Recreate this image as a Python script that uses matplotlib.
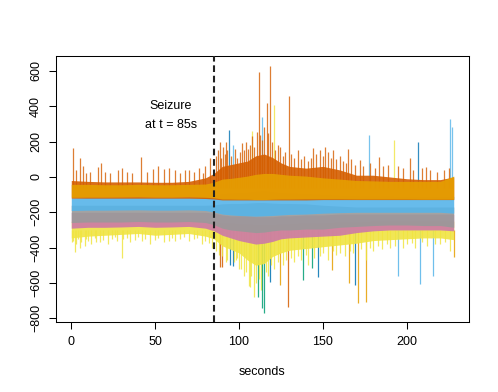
import matplotlib
matplotlib.use("Agg")
import matplotlib.pyplot as plt
import numpy as np

plt.rcParams['font.family'] = ['Liberation Sans', 'DejaVu Sans']

# Okabe-Ito colours used for the channels
DKOR = '#D55E00'
ORNG = '#E69F00'
SKY = '#56B4E9'
GREEN = '#009E73'
YEL = '#F0E442'
BLUE = '#0072B2'
PINK = '#CC79A7'
GRAY = '#999999'

# time knots (seconds) for the band envelopes
T = [0, 10, 20, 30, 40, 50, 60, 70, 80, 85, 90, 95, 100, 105, 110, 115,
     120, 125, 130, 140, 150, 160, 170, 180, 190, 200, 210, 220, 228]

# envelopes (upper / lower) of the dense part of each channel
yel_hi = [-250, -250, -250, -250, -250, -250, -250, -250, -250, -255, -260, -260, -265, -265, -270, -270,
          -270, -265, -265, -260, -260, -255, -255, -250, -250, -250, -250, -250, -250]
yel_lo = [-345, -335, -330, -325, -320, -330, -325, -320, -335, -350, -390, -410, -430, -470, -500, -490,
          -450, -430, -415, -405, -395, -385, -375, -360, -355, -350, -345, -345, -355]
pink_hi = [-200, -200, -200, -200, -200, -200, -200, -200, -200, -205, -215, -220, -220, -220, -225, -225,
           -225, -220, -220, -215, -215, -210, -210, -210, -210, -210, -210, -210, -210]
pink_lo = [-290, -285, -285, -283, -280, -285, -283, -280, -290, -305, -330, -345, -360, -370, -380, -375,
           -365, -350, -345, -340, -335, -330, -315, -305, -300, -300, -300, -300, -305]
gray_hi = [-160, -160, -160, -160, -160, -160, -160, -160, -160, -158, -152, -150, -150, -148, -145, -145,
           -148, -150, -150, -152, -160, -165, -170, -170, -170, -170, -170, -170, -170]
gray_lo = [-258, -255, -255, -255, -252, -255, -255, -252, -258, -270, -290, -300, -305, -310, -315, -312,
           -305, -300, -300, -295, -295, -285, -280, -275, -272, -272, -275, -275, -285]
sky_hi = [-118, -116, -116, -116, -115, -116, -116, -115, -112, -105, -95, -92, -90, -88, -82, -78,
          -85, -90, -92, -95, -100, -105, -108, -110, -110, -112, -112, -112, -110]
sky_lo = [-190, -188, -188, -187, -186, -188, -188, -186, -190, -198, -210, -215, -218, -220, -222, -220,
          -218, -215, -212, -210, -205, -202, -200, -200, -200, -200, -200, -200, -205]
dkor_hi = [-20, -25, -28, -28, -28, -30, -30, -25, -5, 20, 60, 70, 80, 90, 120, 130,
           110, 80, 60, 50, 60, 40, 10, 10, 0, -10, -15, -15, 0]
dkor_lo = [-120, -120, -120, -120, -120, -120, -120, -120, -122, -125, -130, -130, -130, -130, -130, -130,
           -130, -130, -130, -130, -128, -128, -128, -128, -128, -128, -128, -128, -128]
orng_hi = [-42, -42, -44, -44, -42, -44, -44, -42, -40, -30, -12, -8, -2, 5, 15, 20,
           20, 15, 10, 5, -5, -12, -20, -22, -25, -25, -25, -25, 5]
orng_lo = [-115, -114, -114, -113, -112, -114, -114, -112, -115, -118, -125, -125, -126, -126, -128, -128,
           -126, -125, -125, -124, -124, -124, -125, -125, -125, -125, -126, -126, -126]

# upward spikes: time, peak value, colour
up_t = [1.2, 3, 5.2, 7, 8.7, 11, 15.9, 17.9, 20, 23.2, 28, 30, 33, 36, 41.3, 45, 49, 52, 55, 58,
        62, 65, 68, 70, 73, 76, 78.4, 80, 82.7, 88.7, 92.3, 94.2, 96.6, 105.5, 107.5, 110.5, 111.9,
        113.5, 115, 116.5, 118.5, 120.8, 124.4, 129.6, 144.2, 151.2, 156, 165, 172, 177.4, 183.5,
        192.5, 201.8, 206.7, 211.7, 226, 227,
        86, 87.5, 89.5, 90.5, 91.5, 93, 95, 97.5, 99, 100.5, 101.5, 103, 104, 106.5, 108, 109,
        112.5, 114, 117, 119.5, 121.5, 123, 126, 127.5, 131, 133, 135, 137, 139, 141, 143, 146,
        148, 150, 153, 155, 158, 160, 162, 164, 167, 169, 174, 178, 181, 186, 189, 195, 198,
        204, 209, 214, 218, 222, 225]
up_v = [162, 40, 106, 60, 21, 30, 58, 77, 30, 24, 40, 50, 30, 20, 111, 30, 43, 60, 43, 50,
        40, 20, 40, 40, 30, 50, 21, 60, 106, 196, 200, 266, 181, 157, 262, 256, 593,
        338, 285, 417, 628, 407, 171, 458, 162, 171, 153, 158, 96, 238, 111,
        209, 106, 200, 58, 326, 285,
        120, 150, 110, 170, 130, 150, 120, 160, 110, 140, 190, 150, 200, 180, 230, 170,
        240, 210, 250, 200, 150, 180, 120, 140, 130, 110, 150, 100, 120, 90, 110, 130,
        150, 120, 140, 110, 100, 120, 90, 80, 100, 70, 60, 80, 50, 60, 70, 60, 50,
        40, 50, 40, 30, 40, 50]
up_c = [DKOR] * 31 + [BLUE, SKY, DKOR, YEL, DKOR, DKOR, SKY, DKOR, DKOR, DKOR, YEL, DKOR, DKOR,
                      DKOR, DKOR, DKOR, DKOR, DKOR, SKY, DKOR, YEL, DKOR, BLUE, DKOR, SKY, SKY] + [DKOR] * 55

# downward spikes: time, lowest value, colour
dn_t = [0.4, 2.4, 5, 8, 12, 17, 22, 30.2, 35, 42, 47, 55, 62, 70, 78, 84,
        88, 88.7, 89.7, 92, 94.6, 96.2, 98, 100, 103, 106, 106.5, 108.9, 110, 111.5, 113, 113.9,
        115, 117, 118.5, 121, 124.4, 126, 129.4, 133, 137, 138.3, 141, 143.3, 146.8, 148, 153,
        155.2, 158, 163, 165.7, 168, 169.2, 171, 175.6, 176, 180, 185, 190, 194.8, 198, 205,
        207.7, 212, 215.7, 220, 226, 228,
        1, 3, 4, 6, 9, 10, 14, 15, 19, 24, 26, 27, 31, 33, 38, 40, 44, 50, 52, 58, 60, 65, 67,
        73, 75, 80, 82, 86, 90, 93, 97, 99, 101, 104, 107, 112, 116, 119, 123, 128, 131, 135,
        140, 145, 150, 156, 160, 166, 173, 178, 183, 188, 193, 200, 203, 209, 217, 223]
dn_v = [-366, -423, -400, -390, -380, -370, -380, -460, -370, -360, -380, -370, -360, -360, -380, -400,
        -440, -511, -511, -480, -498, -504, -470, -520, -560, -620, -621, -681, -600, -677, -640, -743,
        -768, -560, -593, -520, -611, -500, -738, -480, -470, -583, -500, -517, -564, -450, -470,
        -526, -440, -450, -602, -430, -611, -711, -706, -470, -420, -410, -400, -560, -400, -400,
        -606, -390, -560, -380, -420, -451,
        -360, -380, -350, -370, -350, -360, -345, -370, -355, -350, -340, -365, -350, -345, -355,
        -340, -350, -355, -345, -360, -345, -350, -340, -350, -345, -360, -375, -420, -450, -470,
        -480, -460, -520, -540, -560, -580, -540, -500, -480, -470, -460, -450, -440, -460, -430,
        -420, -430, -420, -410, -400, -390, -380, -390, -380, -375, -370, -380, -370]
dn_c = [YEL] * 16 + [YEL, DKOR, DKOR, YEL, BLUE, BLUE, YEL, YEL, YEL, YEL, YEL, YEL, YEL, GREEN, YEL, GREEN,
                     GREEN, YEL, BLUE, YEL, ORNG, YEL, DKOR, YEL, YEL, GREEN, YEL, GREEN, BLUE, YEL, YEL,
                     ORNG, YEL, YEL, ORNG, YEL, BLUE, ORNG, ORNG, YEL, YEL, YEL, YEL, SKY, YEL, YEL,
                     SKY, YEL, SKY, YEL, YEL, ORNG] + [YEL] * 57

seizure_t = 85

fig = plt.figure(figsize=(4.98, 3.92), dpi=100)
ax = fig.add_axes([0.1124, 0.1786, 0.8294, 0.6786])

# spikes first, the dense bands sit on top of their roots
ax.vlines(dn_t, -300, dn_v, colors=dn_c, lw=0.9, alpha=0.85, zorder=1)
ax.vlines(up_t, -60, up_v, colors=up_c, lw=0.9, alpha=0.8, zorder=1)

bands = [(yel_hi, yel_lo, YEL), (pink_hi, pink_lo, PINK), (gray_hi, gray_lo, GRAY),
         (sky_hi, sky_lo, SKY), (dkor_hi, dkor_lo, DKOR), (orng_hi, orng_lo, ORNG)]
for hi, lo, col in bands:
    ax.fill_between(T, lo, hi, color=col, alpha=0.9, lw=0, zorder=2)

ax.axvline(seizure_t, color='#222222', lw=1.5, dashes=(3.2, 1.8), zorder=3)
ax.text(59.5, 402, 'Seizure', ha='center', va='center', fontsize=9)
ax.text(59.5, 294, 'at t = 85s', ha='center', va='center', fontsize=9)

ax.set_xlim(-9.12, 237.12)
ax.set_ylim(-821, 685)
ax.set_xticks([0, 50, 100, 150, 200])
ax.set_yticks([-800, -600, -400, -200, 0, 200, 400, 600])
ax.tick_params(direction='out', length=5, width=0.75, labelsize=9, colors='black')
ax.tick_params(axis='x', pad=5)
ax.tick_params(axis='y', pad=5)
for lbl in ax.get_yticklabels():
    lbl.set_rotation(90)
    lbl.set_va('center')
for s in ax.spines.values():
    s.set_linewidth(0.75)
ax.set_xlabel('seconds', fontsize=9, labelpad=13)

fig.savefig('out.png', dpi=100)
